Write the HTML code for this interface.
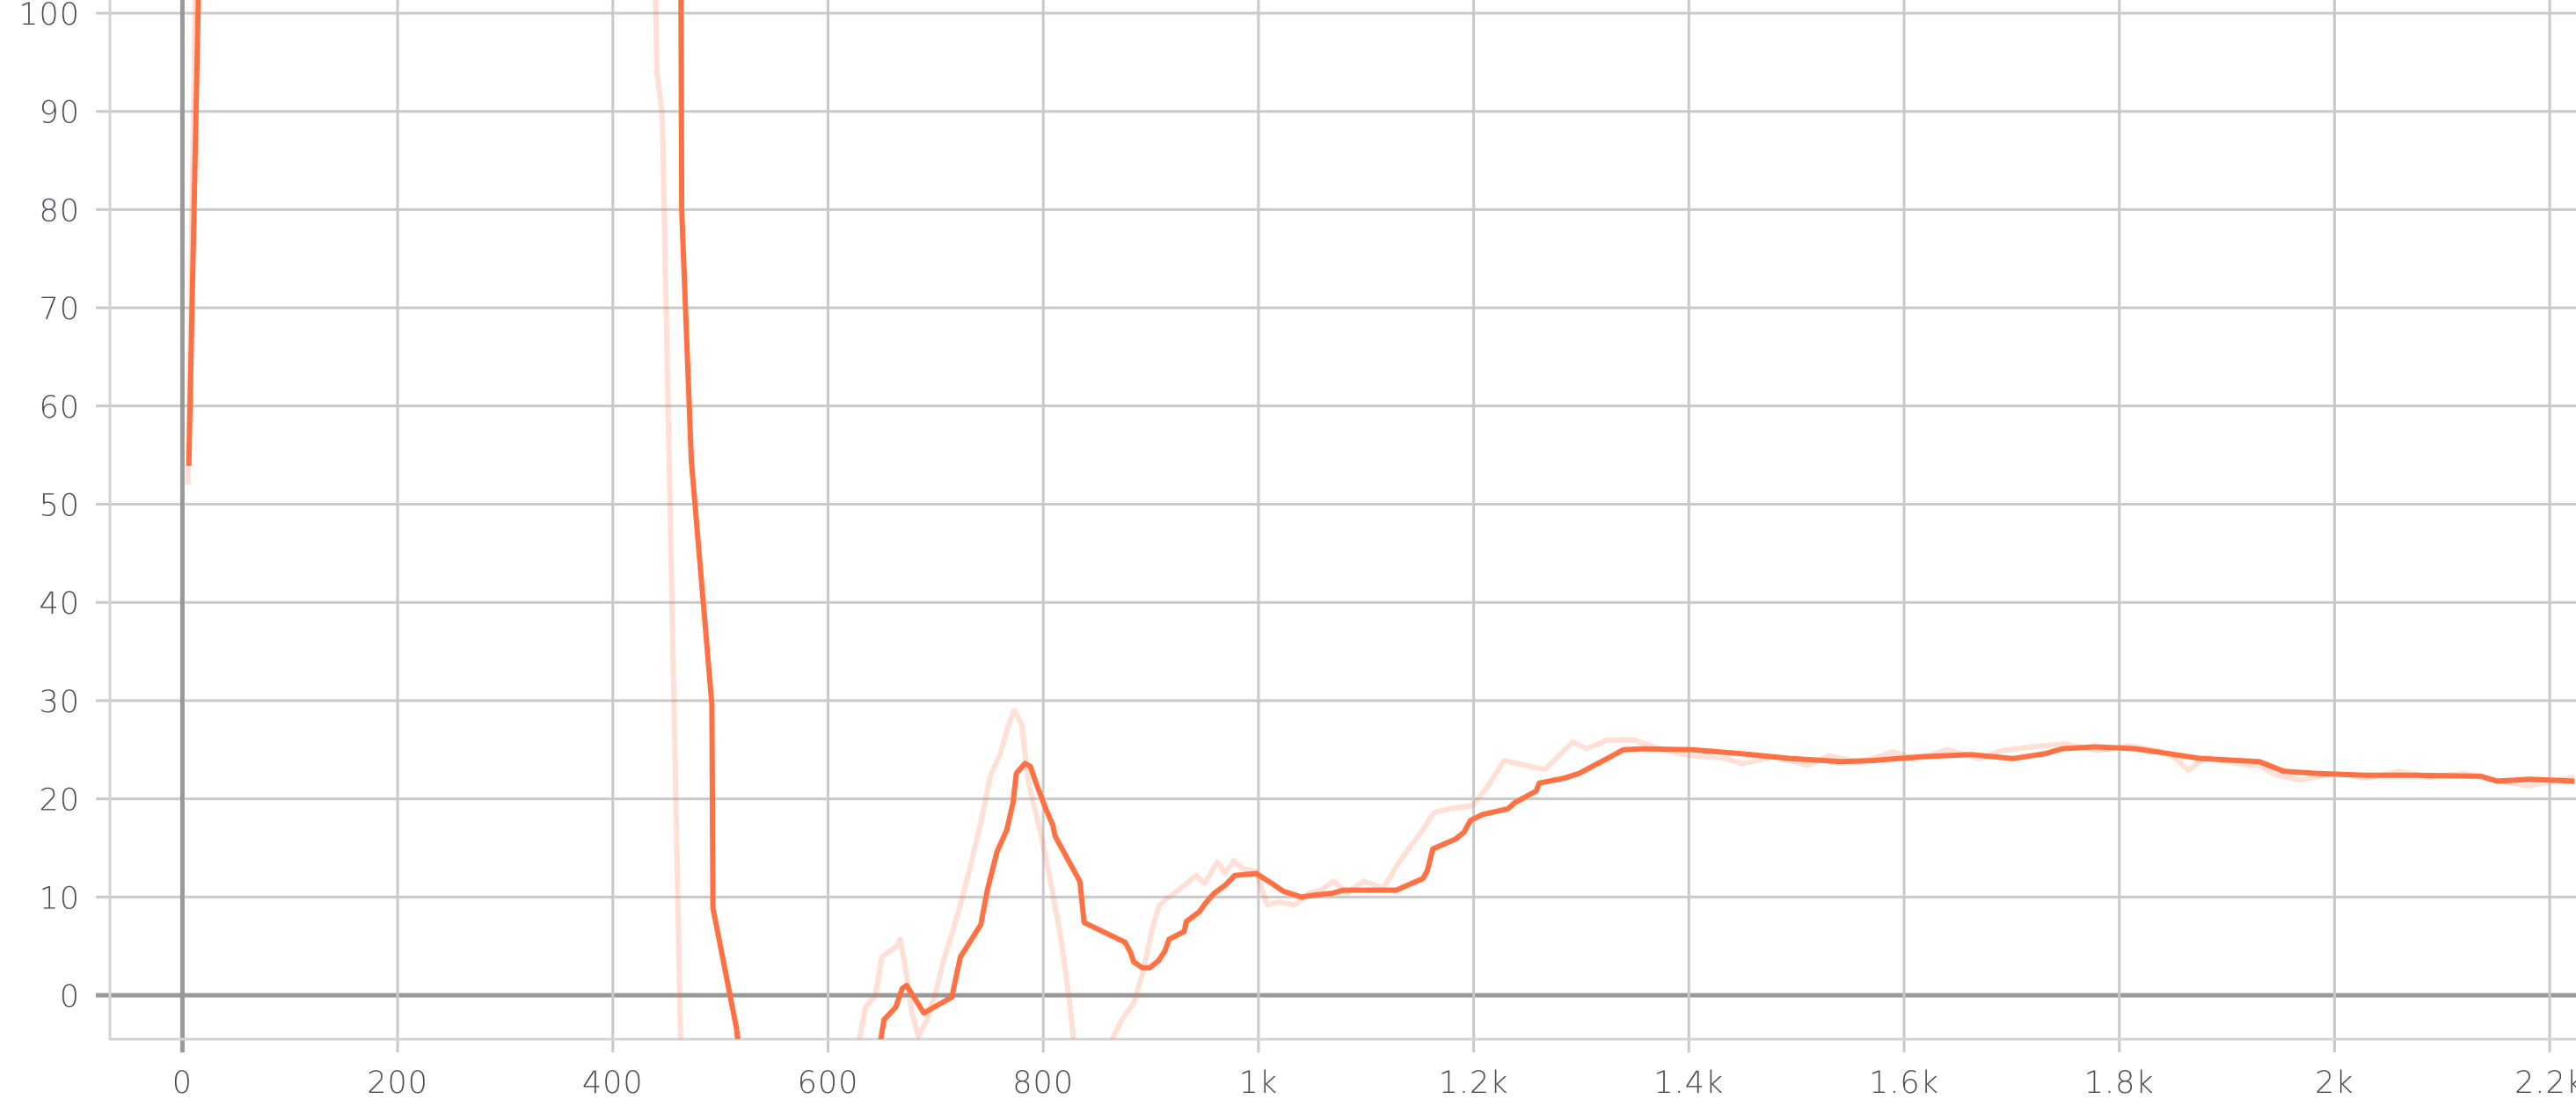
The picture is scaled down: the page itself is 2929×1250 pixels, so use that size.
<!DOCTYPE html>
<html><head><meta charset="utf-8">
<style>
html,body{margin:0;padding:0;background:#fff;overflow:hidden;width:2929px;height:1250px;}
svg{display:block;}
text{font-family:"DejaVu Sans","Liberation Sans",sans-serif;font-weight:200;fill:#4a4a55;font-size:35px;letter-spacing:1px;}
</style></head>
<body>
<svg id="chart" width="2929" height="1250" viewBox="0 0 2929 1250" xmlns="http://www.w3.org/2000/svg">
<g id="grid"></g>
<g id="axes"></g>
<g id="plot" clip-path="url(#clip)"></g>
<defs><clipPath id="clip"><rect x="125" y="0" width="2804" height="1182"/></clipPath></defs>
</svg>
<script>
const xTicks = [0,200,400,600,800,1000,1200,1400,1600,1800,2000,2200];
const xTickLabels = ["0","200","400","600","800","1k","1.2k","1.4k","1.6k","1.8k","2k","2.2k"];
const yTicks = [0,10,20,30,40,50,60,70,80,90,100];
const yTickLabels = ["0","10","20","30","40","50","60","70","80","90","100"];

const smoothX = [6,22,462,464,473,492,493,515,530,649,652,663,669,673,689,715,723,742,748,757,766,772,775,783,788,794,802,809,811,834,838,876,881,884,892,899,907,913,917,931,933,945,951,959,969,978,998,1015,1023,1040,1052,1069,1079,1128,1153,1157,1162,1183,1191,1197,1208,1232,1238,1258,1261,1284,1298,1324,1339,1357,1403,1449,1495,1541,1571,1617,1663,1701,1731,1747,1777,1815,1846,1876,1930,1953,1983,2029,2075,2136,2151,2182,2223];
const smoothY = [53.9,140,140,80,54.4,29.6,8.9,-3.4,-20,-4.5,-2.5,-1.2,0.7,1,-1.8,-0.2,3.9,7.2,10.7,14.6,16.8,19.6,22.6,23.6,23.3,21.4,19.1,17.3,16.2,11.6,7.4,5.4,4.4,3.4,2.8,2.8,3.5,4.5,5.7,6.5,7.5,8.5,9.4,10.4,11.2,12.2,12.4,11.2,10.6,10,10.2,10.4,10.7,10.7,11.9,12.7,14.9,15.9,16.6,17.8,18.4,19,19.6,20.8,21.6,22.1,22.6,24.1,25,25.1,25,24.6,24.1,23.8,23.9,24.3,24.5,24.1,24.6,25.1,25.3,25.1,24.6,24.1,23.8,22.8,22.6,22.4,22.4,22.3,21.8,22,21.8];

const rawX = [5,20,430,441,446,453,463,480,629,635,644,650,664,667,672,678,684,692,701,707,715,725,733,742,751,760,768,773,780,786,797,808,817,825,828,845,864,873,884,893,901,908,917,929,942,950,962,969,977,985,998,1008,1019,1034,1047,1058,1070,1082,1098,1116,1131,1153,1163,1177,1199,1214,1228,1249,1266,1283,1292,1305,1324,1348,1373,1400,1430,1450,1480,1510,1530,1560,1590,1610,1640,1670,1690,1720,1750,1780,1810,1840,1854,1864,1880,1910,1932,1946,1968,2000,2030,2060,2090,2120,2151,2180,2223];
const rawY = [52,160,160,94,89.6,51,-4.5,-30,-4.5,-1.2,0,3.9,5,5.7,2.7,-1.8,-4.2,-2.5,0.7,3.4,6.2,10,13.4,17.6,22.3,24.6,27.6,29,27.6,21.8,16.8,10.9,5.4,-1.2,-4.5,-30,-4.5,-2.5,-0.8,2.5,6.7,9.2,10,11,12.2,11.4,13.6,12.4,13.7,12.9,12.6,9.2,9.5,9.2,10.4,10.7,11.6,10.4,11.6,10.9,13.6,16.9,18.6,19,19.3,21.4,23.9,23.4,23,24.8,25.8,25.1,26,26,25.1,24.4,24.2,23.6,24.3,23.4,24.4,23.7,24.8,24,25,24.1,24.9,25.3,25.6,24.9,25.4,24.8,24,22.9,24.2,23.6,23.3,22.4,21.9,22.6,22.1,22.8,22.2,22.6,21.9,21.3,22.2,21.7];

const X0 = 207.4, XS = 1.2235, Y0 = 1132, YS = 11.17;
function sx(v){ return X0 + v*XS; }
function sy(v){ return Y0 - v*YS; }
const NS = "http://www.w3.org/2000/svg";
function mk(tag, attrs, parent){ const e=document.createElementNS(NS,tag); for(const k in attrs) e.setAttribute(k,attrs[k]); parent.appendChild(e); return e; }
const grid=document.getElementById('grid'), axes=document.getElementById('axes'), plot=document.getElementById('plot');

yTicks.forEach((t,i)=>{
  const y=sy(t);
  const l=mk('line',{x1:109,x2:2929,y1:y,y2:y,stroke:t===0?'#999':'#c9c9c9','stroke-width':t===0?5:3},grid);
  
  
  const tx=mk('text',{x:91,y:y+13,'text-anchor':'end'},axes);
  tx.textContent=yTickLabels[i];
  
  
});
xTicks.forEach((t,i)=>{
  const x=sx(t);
  const l=mk('line',{x1:x,x2:x,y1:0,y2:1197,stroke:t===0?'#999':'#c9c9c9','stroke-width':t===0?5:3},grid);
  
  
  const tx=mk('text',{x:x,y:1243,'text-anchor':'middle'},axes);
  tx.textContent=xTickLabels[i];
  
  
});
const bl=mk('line',{x1:125,x2:125,y1:0,y2:1183,stroke:'#d4d4d4','stroke-width':3},axes);


const bb=mk('line',{x1:124,x2:2929,y1:1182,y2:1182,stroke:'#d4d4d4','stroke-width':3},axes);



function pts(xs,ys){ return xs.map((v,i)=>sx(v).toFixed(1)+','+sy(ys[i]).toFixed(1)).join(' '); }
const raw=mk('polyline',{points:pts(rawX,rawY),fill:'none',stroke:'#ff7043','stroke-opacity':0.22,'stroke-width':6,'stroke-linejoin':'round'},plot);


const sm=mk('polyline',{points:pts(smoothX,smoothY),fill:'none',stroke:'#ff7043','stroke-width':6,'stroke-linejoin':'round'},plot);


</script>
</body></html>
